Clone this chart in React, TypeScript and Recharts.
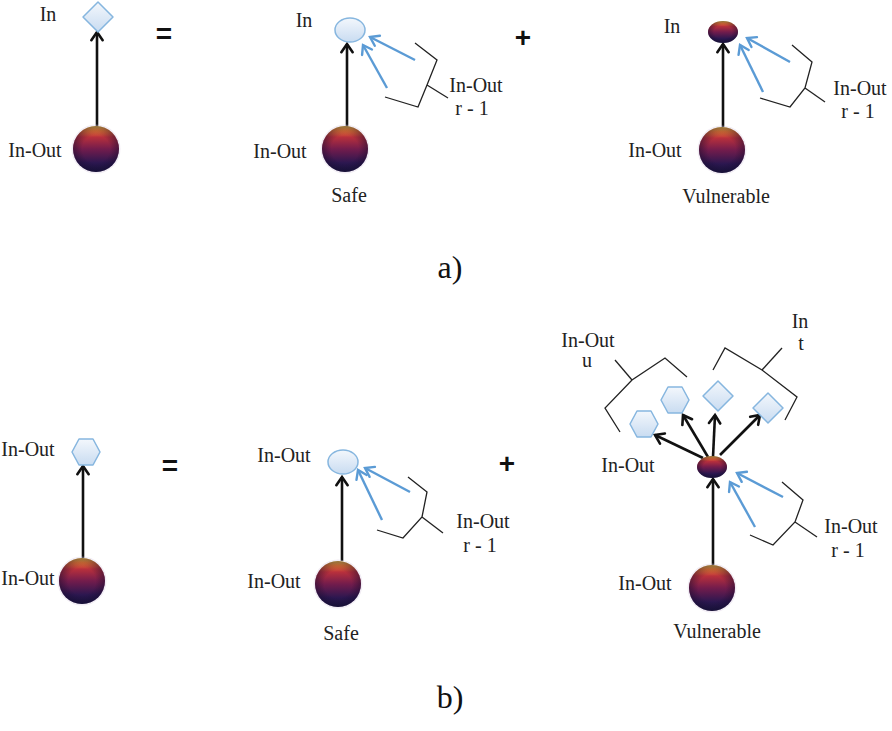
import React from 'react';
import { ScatterChart, Scatter, XAxis, YAxis, ReferenceLine } from 'recharts';

// ---------- data (diagram units: 1 unit = 1 px of the reference) ----------
const nodes = [
  { id: 'a1in', kind: 'diamond', x: 98, y: 17 },
  { id: 'a1src', kind: 'sphere', x: 96, y: 149 },
  { id: 'a2in', kind: 'pale', x: 350, y: 30 },
  { id: 'a2src', kind: 'sphere', x: 345, y: 149 },
  { id: 'a3in', kind: 'dark', x: 723, y: 32 },
  { id: 'a3src', kind: 'sphere', x: 722, y: 150 },
  { id: 'b1out', kind: 'hexagon', x: 86, y: 452 },
  { id: 'b1src', kind: 'sphere', x: 82, y: 581 },
  { id: 'b2in', kind: 'pale', x: 343, y: 462 },
  { id: 'b2src', kind: 'sphere', x: 338, y: 584 },
  { id: 'b3mid', kind: 'dark', x: 712, y: 467 },
  { id: 'b3h1', kind: 'hexagon', x: 644, y: 424 },
  { id: 'b3h2', kind: 'hexagon', x: 675, y: 400 },
  { id: 'b3d1', kind: 'diamond', x: 718, y: 396 },
  { id: 'b3d2', kind: 'diamond', x: 768, y: 408 },
  { id: 'b3src', kind: 'sphere', x: 712, y: 588 },
];

const flowArrows = [
  { x1: 97, y1: 127, x2: 97, y2: 32 },
  { x1: 347, y1: 127, x2: 347, y2: 44 },
  { x1: 723, y1: 127, x2: 723, y2: 44 },
  { x1: 83, y1: 558, x2: 83, y2: 466 },
  { x1: 342, y1: 561, x2: 342, y2: 477 },
  { x1: 713, y1: 565, x2: 713, y2: 479 },
  { x1: 703, y1: 458, x2: 655, y2: 435 },
  { x1: 708, y1: 457, x2: 683, y2: 415 },
  { x1: 713, y1: 457, x2: 715, y2: 415 },
  { x1: 720, y1: 455, x2: 760, y2: 415 },
];

const returnArrows = [
  { x1: 387, y1: 88, x2: 363, y2: 45 },
  { x1: 415, y1: 60, x2: 370, y2: 37 },
  { x1: 763, y1: 92, x2: 740, y2: 45 },
  { x1: 790, y1: 62, x2: 747, y2: 38 },
  { x1: 382, y1: 520, x2: 358, y2: 470 },
  { x1: 410, y1: 492, x2: 365, y2: 468 },
  { x1: 755, y1: 527, x2: 730, y2: 482 },
  { x1: 783, y1: 497, x2: 737, y2: 473 },
];

const bracketA2 = [{ x: 415, y: 43 }, { x: 437, y: 60 }, { x: 427, y: 85 }, { x: 418, y: 107 }, { x: 385, y: 97 }];
const spikeA2 = [{ x: 427, y: 85 }, { x: 448, y: 98 }];
const bracketA3 = [{ x: 792, y: 45 }, { x: 812, y: 62 }, { x: 805, y: 88 }, { x: 790, y: 107 }, { x: 760, y: 98 }];
const spikeA3 = [{ x: 805, y: 88 }, { x: 825, y: 102 }];
const bracketB2 = [{ x: 408, y: 477 }, { x: 427, y: 492 }, { x: 422, y: 517 }, { x: 403, y: 538 }, { x: 377, y: 530 }];
const spikeB2 = [{ x: 422, y: 517 }, { x: 443, y: 533 }];
const bracketB3 = [{ x: 782, y: 482 }, { x: 803, y: 500 }, { x: 795, y: 522 }, { x: 773, y: 545 }, { x: 750, y: 535 }];
const spikeB3 = [{ x: 795, y: 522 }, { x: 817, y: 537 }];
const bracketU = [{ x: 620, y: 432 }, { x: 605, y: 408 }, { x: 632, y: 380 }, { x: 665, y: 358 }, { x: 687, y: 377 }];
const spikeU = [{ x: 632, y: 380 }, { x: 615, y: 360 }];
const bracketT = [{ x: 713, y: 370 }, { x: 725, y: 348 }, { x: 762, y: 370 }, { x: 797, y: 397 }, { x: 785, y: 420 }];
const spikeT = [{ x: 762, y: 370 }, { x: 782, y: 348 }];

const brackets = [bracketA2, spikeA2, bracketA3, spikeA3, bracketB2, spikeB2, bracketB3, spikeB3, bracketU, spikeU, bracketT, spikeT];

const nodeLabels = [
  { text: 'In', x: 48, y: 21 },
  { text: 'In-Out', x: 35, y: 157 },
  { text: 'In', x: 304, y: 27 },
  { text: 'In-Out', x: 280, y: 158 },
  { text: 'Safe', x: 349, y: 202 },
  { text: 'In-Out', x: 476, y: 92 },
  { text: 'r - 1', x: 472, y: 115 },
  { text: 'In', x: 672, y: 33 },
  { text: 'In-Out', x: 655, y: 157 },
  { text: 'Vulnerable', x: 726, y: 203 },
  { text: 'In-Out', x: 860, y: 95 },
  { text: 'r - 1', x: 858, y: 118 },
  { text: 'In-Out', x: 28, y: 456 },
  { text: 'In-Out', x: 28, y: 585 },
  { text: 'In-Out', x: 284, y: 462 },
  { text: 'In-Out', x: 274, y: 588 },
  { text: 'Safe', x: 341, y: 640 },
  { text: 'In-Out', x: 483, y: 528 },
  { text: 'r - 1', x: 480, y: 552 },
  { text: 'In-Out', x: 588, y: 347 },
  { text: 'u', x: 587, y: 367 },
  { text: 'In', x: 800, y: 328 },
  { text: 't', x: 801, y: 350 },
  { text: 'In-Out', x: 628, y: 472 },
  { text: 'In-Out', x: 851, y: 533 },
  { text: 'r - 1', x: 848, y: 557 },
  { text: 'In-Out', x: 645, y: 590 },
  { text: 'Vulnerable', x: 717, y: 638 },
];

const operators = [
  { text: '=', x: 164, y: 33 },
  { text: '+', x: 523, y: 37 },
  { text: '=', x: 170, y: 465 },
  { text: '+', x: 507, y: 463 },
];

const captions = [
  { text: 'a)', x: 450, y: 278 },
  { text: 'b)', x: 450, y: 708 },
];

// ---------- styles ----------
const SIZE = {
  sphere: { r: 23 },
  pale: { rx: 15, ry: 12 },
  dark: { rx: 15, ry: 11 },
  diamond: { hw: 15, hh: 15 },
  hexagon: { hw: 14, hh: 13 },
};
const PALE_STROKE = '#86b6df';
const BLUE = '#5b9bd5';
const SERIF = '"Liberation Serif", "Times New Roman", "DejaVu Serif", serif';

const Grad = ({ id }: { id: string }) => (
  <defs>
    <linearGradient id={`s-${id}`} x1="0" y1="0" x2="0" y2="1">
      <stop offset="0" stopColor="#f8c848" />
      <stop offset="0.1" stopColor="#ee7a34" />
      <stop offset="0.24" stopColor="#b8303c" />
      <stop offset="0.5" stopColor="#731c4c" />
      <stop offset="0.8" stopColor="#2c1750" />
      <stop offset="1" stopColor="#1b1541" />
    </linearGradient>
    <radialGradient id={`r-${id}`} cx="0.5" cy="0.5" r="0.5">
      <stop offset="0.6" stopColor="#120a2a" stopOpacity="0" />
      <stop offset="1" stopColor="#120a2a" stopOpacity="0.45" />
    </radialGradient>
    <linearGradient id={`p-${id}`} x1="0" y1="0" x2="0" y2="1">
      <stop offset="0" stopColor="#f3f7fc" />
      <stop offset="1" stopColor="#c9dcf1" />
    </linearGradient>
  </defs>
);

const NodeShape = (props: any) => {
  const { cx, cy, payload } = props;
  if (cx == null || cy == null) return <g />;
  const id = payload.id;
  const k = payload.kind;
  if (k === 'sphere') {
    const r = SIZE.sphere.r;
    return (
      <g>
        <Grad id={id} />
        <circle cx={cx} cy={cy} r={r + 1.5} fill="#d8c8e0" opacity={0.35} />
        <circle cx={cx} cy={cy} r={r} fill={`url(#s-${id})`} />
        <circle cx={cx} cy={cy} r={r} fill={`url(#r-${id})`} />
      </g>
    );
  }
  if (k === 'dark') {
    const { rx, ry } = SIZE.dark;
    return (
      <g>
        <Grad id={id} />
        <ellipse cx={cx} cy={cy} rx={rx} ry={ry} fill={`url(#s-${id})`} />
        <ellipse cx={cx} cy={cy} rx={rx} ry={ry} fill={`url(#r-${id})`} />
      </g>
    );
  }
  if (k === 'pale') {
    const { rx, ry } = SIZE.pale;
    return (
      <g>
        <Grad id={id} />
        <ellipse cx={cx} cy={cy} rx={rx} ry={ry} fill={`url(#p-${id})`} stroke={PALE_STROKE} strokeWidth={1.5} />
      </g>
    );
  }
  if (k === 'diamond') {
    const { hw, hh } = SIZE.diamond;
    const d = `M${cx},${cy - hh} L${cx + hw},${cy} L${cx},${cy + hh} L${cx - hw},${cy} Z`;
    return (
      <g>
        <Grad id={id} />
        <path d={d} fill={`url(#p-${id})`} stroke={PALE_STROKE} strokeWidth={1.5} strokeLinejoin="round" />
      </g>
    );
  }
  const { hw, hh } = SIZE.hexagon;
  const d = `M${cx - hw},${cy} L${cx - hw / 2},${cy - hh} L${cx + hw / 2},${cy - hh} L${cx + hw},${cy} L${cx + hw / 2},${cy + hh} L${cx - hw / 2},${cy + hh} Z`;
  return (
    <g>
      <Grad id={id} />
      <path d={d} fill={`url(#p-${id})`} stroke={PALE_STROKE} strokeWidth={1.5} strokeLinejoin="round" />
    </g>
  );
};

const makeArrow = (color: string, width: number) => (props: any) => {
  const { x1, y1, x2, y2 } = props;
  const ang = Math.atan2(y2 - y1, x2 - x1);
  const L = 10;
  const spread = 0.6;
  const ax = x2 - L * Math.cos(ang - spread);
  const ay = y2 - L * Math.sin(ang - spread);
  const bx = x2 - L * Math.cos(ang + spread);
  const by = y2 - L * Math.sin(ang + spread);
  return (
    <g>
      <line x1={x1} y1={y1} x2={x2} y2={y2} stroke={color} strokeWidth={width} />
      <polyline
        points={`${ax},${ay} ${x2},${y2} ${bx},${by}`}
        fill="none"
        stroke={color}
        strokeWidth={width}
        strokeLinejoin="miter"
        strokeLinecap="round"
      />
    </g>
  );
};
const BlackArrow = makeArrow('#111111', 2.6);
const BlueArrow = makeArrow(BLUE, 2.4);

const Nothing = () => <g />;

const textShape = (style: any, central = false) => (props: any) => {
  const { cx, cy, payload } = props;
  if (cx == null || cy == null) return <g />;
  return (
    <text
      x={cx}
      y={cy}
      textAnchor="middle"
      dominantBaseline={central ? 'central' : 'auto'}
      fill={style.fill}
      style={{ fontFamily: style.fontFamily, fontSize: style.fontSize, fontWeight: style.fontWeight }}
    >
      {payload.text}
    </text>
  );
};
const NodeText = textShape({ fontFamily: SERIF, fontSize: 20, fill: '#222', fontWeight: 'normal' });
const OpText = textShape({ fontFamily: '"Liberation Sans", Arial, sans-serif', fontSize: 28, fontWeight: 'bold', fill: '#111' }, true);
const CapText = textShape({ fontFamily: SERIF, fontSize: 32, fill: '#111', fontWeight: 'normal' });

export default function App() {
  return (
    <div style={{ position: 'absolute', left: 0, top: 0, width: 892, height: 731, background: '#fff', fontFamily: SERIF }}>
      <ScatterChart width={892} height={731} margin={{ top: 0, right: 0, bottom: 0, left: 0 }} style={{ fontFamily: SERIF }}>
        <XAxis type="number" dataKey="x" domain={[0, 892]} hide allowDataOverflow />
        <YAxis type="number" dataKey="y" domain={[0, 731]} reversed hide allowDataOverflow />
        {brackets.map((pts, i) => (
          <Scatter
            key={`br${i}`}
            data={pts}
            line={{ stroke: '#222', strokeWidth: 1.3 }}
            shape={Nothing}
            isAnimationActive={false}
          />
        ))}
        {flowArrows.map((a, i) => (
          <ReferenceLine
            key={`fa${i}`}
            segment={[{ x: a.x1, y: a.y1 }, { x: a.x2, y: a.y2 }]}
            shape={BlackArrow}
            ifOverflow="visible"
          />
        ))}
        {returnArrows.map((a, i) => (
          <ReferenceLine
            key={`ra${i}`}
            segment={[{ x: a.x1, y: a.y1 }, { x: a.x2, y: a.y2 }]}
            shape={BlueArrow}
            ifOverflow="visible"
          />
        ))}
        <Scatter data={nodes} shape={NodeShape} isAnimationActive={false} />
        <Scatter data={nodeLabels} shape={NodeText} isAnimationActive={false} />
        <Scatter data={operators} shape={OpText} isAnimationActive={false} />
        <Scatter data={captions} shape={CapText} isAnimationActive={false} />
      </ScatterChart>
    </div>
  );
}
